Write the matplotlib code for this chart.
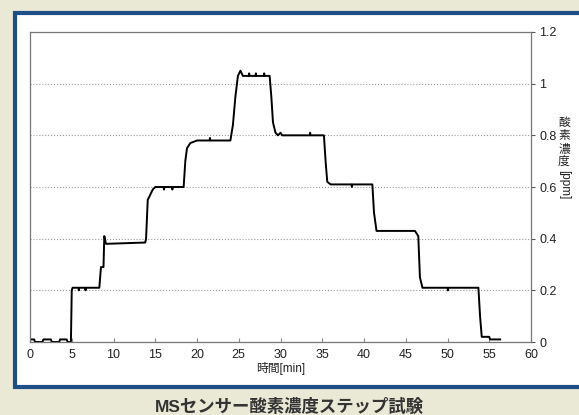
import matplotlib.pyplot as plt
from matplotlib.patches import Rectangle

plt.rcParams['font.family'] = ['Liberation Sans', 'Noto Sans CJK JP', 'DejaVu Sans']

# ==== データ (時間[min], 酸素濃度[ppm]) ====
time_min = [0, 0.5, 0.6, 1.5, 1.6, 2.5, 2.6, 3.5, 3.6, 4.4, 4.5, 4.9,
            5.0, 5.1, 5.8, 5.85, 5.9, 6.6, 6.65, 6.7, 8.3, 8.5, 8.8, 8.9, 9.1,
            13.8, 13.9, 14.1, 14.4, 14.7, 15.0, 16.0, 16.05, 16.1, 17.0, 17.05, 17.1, 18.4,
            18.6, 18.8, 19.2, 20.0, 21.5, 21.55, 21.6, 24.0, 24.3, 24.6, 24.9, 25.2, 25.5,
            26.2, 26.25, 26.3, 27.0, 27.05, 27.1, 28.0, 28.05, 28.1, 28.7, 28.9, 29.1, 29.4, 29.7,
            30.0, 30.2, 30.4, 33.5, 33.55, 33.6, 35.2, 35.4, 35.6, 36.0, 38.5, 38.55, 38.6, 41.0,
            41.2, 41.5, 46.1, 46.3, 46.5, 46.7, 47.0, 50.0, 50.05, 50.1, 53.7, 53.9, 54.1,
            55.0, 55.1, 55.3, 56.3]
oxygen_ppm = [0.01, 0.01, 0.0, 0.0, 0.01, 0.01, 0.0, 0.0, 0.01, 0.01, 0.0, 0.0,
              0.2, 0.21, 0.21, 0.2, 0.21, 0.21, 0.2, 0.21, 0.21, 0.29, 0.29, 0.41, 0.38,
              0.385, 0.40, 0.55, 0.57, 0.59, 0.60, 0.60, 0.59, 0.60, 0.60, 0.59, 0.60, 0.60,
              0.70, 0.75, 0.77, 0.78, 0.78, 0.79, 0.78, 0.78, 0.84, 0.95, 1.03, 1.05, 1.03,
              1.03, 1.04, 1.03, 1.03, 1.04, 1.03, 1.03, 1.04, 1.03, 1.03, 0.95, 0.85, 0.81, 0.80,
              0.81, 0.80, 0.80, 0.80, 0.81, 0.80, 0.80, 0.70, 0.62, 0.61, 0.61, 0.60, 0.61, 0.61,
              0.50, 0.43, 0.43, 0.42, 0.41, 0.25, 0.21, 0.21, 0.20, 0.21, 0.21, 0.10, 0.02,
              0.02, 0.01, 0.01, 0.01]

x_ticks = list(range(0, 61, 5))
y_ticks = [0, 0.2, 0.4, 0.6, 0.8, 1.0, 1.2]
y_labels = ['0', '0.2', '0.4', '0.6', '0.8', '1', '1.2']

# ==== 図 ====
fig = plt.figure(figsize=(5.79, 4.15), dpi=100)
fig.patch.set_facecolor('#e9e9d6')

# 青い枠
box = Rectangle((15 / 579, 1 - 387 / 415), 600 / 579, 374 / 415, transform=fig.transFigure,
                facecolor='white', edgecolor='#1d4f86', linewidth=3, zorder=-5)
fig.patches.append(box)

ax = fig.add_axes([30 / 579, 1 - 342 / 415, 501 / 579, 310 / 415])
ax.plot(time_min, oxygen_ppm, color='black', linewidth=1.4)

ax.set_xlim(0, 60)
ax.set_ylim(0, 1.2)
ax.set_xticks(x_ticks)
ax.set_yticks(y_ticks)
ax.set_yticklabels(y_labels)
ax.yaxis.tick_right()
ax.tick_params(axis='x', direction='in', length=3, labelsize=9, color='#888888', pad=5,
               labelcolor='#222222')
ax.tick_params(axis='y', direction='out', length=3, labelsize=9, color='#555555', pad=3,
               labelcolor='#222222')
for s in ax.spines.values():
    s.set_color('#777777')
    s.set_linewidth(0.9)

ax.grid(axis='y', linestyle=':', color='#999999', linewidth=0.8)
ax.set_axisbelow(True)

ax.set_xlabel('時間[min]', fontsize=8.5, labelpad=1, color='#222222')

# 縦書きラベル
fig.text(564 / 579, 1 - 117 / 415, '酸\n素\n濃\n度', fontsize=8.5, ha='center', va='top',
         linespacing=1.1, color='#222222')
fig.text(564 / 579, 1 - 170 / 415, '[ppm]', fontsize=8.5, ha='center', va='top',
         rotation=-90, color='#222222')

fig.text(0.5, 1 - 406 / 415, 'MSセンサー酸素濃度ステップ試験', fontsize=12.5, fontweight='bold',
         ha='center', va='center', color='#333333')

plt.savefig('out.png', dpi=100, facecolor=fig.get_facecolor())
